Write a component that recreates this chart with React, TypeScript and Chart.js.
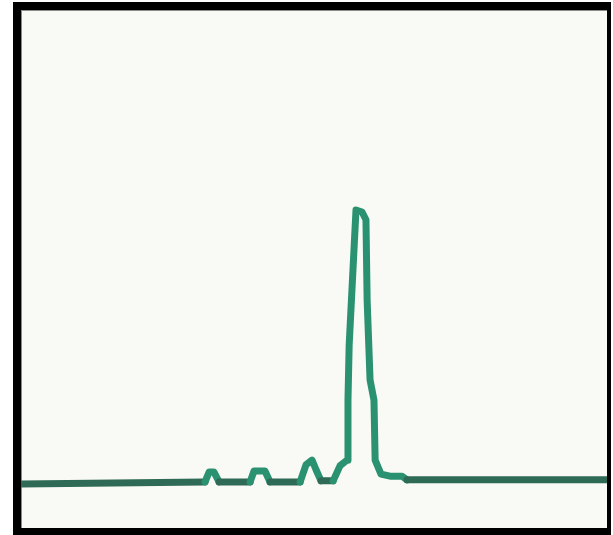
import React, { useEffect, useRef } from "react";
import { Chart, registerables } from "chart.js";

Chart.register(...registerables);

// Retention time (min) and detector signal (% of full scale)
const times: number[] = [
  0, 9.42, 9.63, 9.88, 10.14, 11.73, 11.93, 12.49, 12.75, 14.29, 14.59, 14.9, 15.11, 15.36,
  15.98, 16.33, 16.69, 16.74, 16.8, 17.15, 17.46, 17.66, 17.72, 17.87, 18.07, 18.13, 18.43,
  18.89, 19.51, 19.76, 30,
];
const signal: number[] = [
  8.5, 8.9, 10.8, 10.8, 8.9, 8.9, 11.0, 11.0, 8.9, 8.9, 12.2, 13.1, 11.2, 9.1,
  9.1, 12.0, 13.1, 24.7, 35.3, 61.4, 61.0, 59.5, 44.0, 28.6, 24.7, 13.1, 10.4,
  10.0, 10.0, 9.3, 9.3,
];

const X_MIN = 0;
const X_MAX = 30;
const Y_MIN = 0;
const Y_MAX = 100;

const LINE_COLOR = "#2a9270";
const BASE_COLOR = "#2f6a56";

export default function App() {
  const canvasRef = useRef<HTMLCanvasElement | null>(null);

  useEffect(() => {
    if (!canvasRef.current) return;
    const points = times.map((t, i) => ({ x: t, y: signal[i] }));
    const chart = new Chart(canvasRef.current, {
      type: "line",
      data: {
        datasets: [
          {
            data: points,
            borderColor: LINE_COLOR,
            borderWidth: 7,
            pointRadius: 0,
            tension: 0,
            fill: false,
            borderJoinStyle: "round",
            borderCapStyle: "round",
            segment: {
              borderColor: (ctx: any) =>
                ctx.p0.parsed.y < 10 && ctx.p1.parsed.y < 10 ? BASE_COLOR : LINE_COLOR,
            },
          },
        ],
      },
      options: {
        animation: false,
        responsive: false,
        maintainAspectRatio: false,
        layout: { padding: 0 },
        plugins: { legend: { display: false }, tooltip: { enabled: false }, title: { display: false } },
        scales: {
          x: { type: "linear", min: X_MIN, max: X_MAX, display: false },
          y: { type: "linear", min: Y_MIN, max: Y_MAX, display: false },
        },
      },
    });
    return () => chart.destroy();
  }, []);

  return (
    <div style={{ position: "absolute", left: 0, top: 0, width: 613, height: 535, background: "#ffffff" }}>
      <div
        style={{
          position: "absolute",
          left: 13,
          top: 2,
          width: 598,
          height: 533,
          boxSizing: "border-box",
          borderStyle: "solid",
          borderColor: "#000000",
          borderLeftWidth: 8,
          borderTopWidth: 8,
          borderRightWidth: 4,
          borderBottomWidth: 7,
          background: "#f9faf5",
          boxShadow: "inset 1px 1px 0 0 #8c8c88",
        }}
      />
      <div style={{ position: "absolute", left: 21, top: 10, width: 586, height: 518 }}>
        <canvas ref={canvasRef} width={586} height={518} style={{ display: "block" }} />
      </div>
    </div>
  );
}
